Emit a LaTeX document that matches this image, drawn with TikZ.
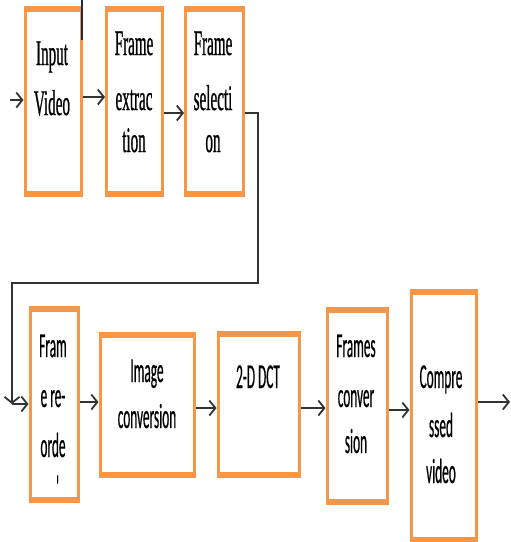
\documentclass[tikz,border=0pt]{standalone}
\usepackage{fontspec}
\usetikzlibrary{arrows.meta}
\newfontfamily\topfam[FakeStretch=0.42,FakeBold=0.6]{Liberation Serif}
\newfontfamily\botfam[FakeStretch=0.38,FakeBold=0.4]{Carlito}
\definecolor{boxorange}{HTML}{F79646}
\definecolor{arrowgray}{HTML}{333333}
\definecolor{navyline}{HTML}{1F2A4A}
\tikzset{
  box/.style={draw=boxorange, line width=3pt, fill=white, inner sep=0pt},
  boxedge/.style={draw=boxorange, line width=6pt},
  tl/.style={anchor=base, inner sep=0pt, font=\topfam\fontsize{36}{40}\selectfont, text=black},
  bl/.style={anchor=base, inner sep=0pt, font=\botfam\fontsize{35}{40}\selectfont, text=black},
  arr/.style={draw=arrowgray, line width=1.8pt, -{Straight Barb[length=6pt,width=15pt,line width=1.8pt]}},
}
\begin{document}
\begin{tikzpicture}[x=1pt,y=-1pt]
\useasboundingbox (0,0) rectangle (511,542);
% boxes (top row)
\node[box, minimum width=56pt, minimum height=182pt] (ivid) at (53,101) {};
\node[box, minimum width=56pt, minimum height=182pt] (fext) at (134.5,101) {};
\node[box, minimum width=58pt, minimum height=182pt] (fsel) at (214.5,101) {};
% boxes (bottom row)
\node[box, minimum width=48pt, minimum height=188pt] (freo) at (54,404) {};
\node[box, minimum width=94pt, minimum height=137pt] (imgc) at (147,404.5) {};
\node[box, minimum width=81pt, minimum height=138pt] (dct) at (258.5,404) {};
\node[box, minimum width=60pt, minimum height=189pt] (fconv) at (357,405.5) {};
\node[box, minimum width=65pt, minimum height=245pt] (comp) at (443.5,416) {};
\foreach \b in {ivid,fext,fsel,freo,imgc,dct,fconv,comp}{
  \draw[boxedge] (\b.north west) -- (\b.north east);
  \draw[boxedge] (\b.south west) -- (\b.south east);
}
% stray mark at the top
\coordinate (mk1) at (82,0);
\coordinate (mk2) at (82,40);
\draw[navyline, line width=2pt] (mk1) -- (mk2);
% texts top row
\node[tl] (t1a) at (52,65) {Input};
\node[tl] (t1b) at (52,115) {Video};
\node[tl] (t2a) at (134,55) {Frame};
\node[tl] (t2b) at (134,110) {extrac};
\node[tl] (t2c) at (134,152) {tion};
\node[tl] (t3a) at (213,55) {Frame};
\node[tl] (t3b) at (213,110) {selecti};
\node[tl] (t3c) at (213,152) {on};
% texts bottom row
\node[bl] (t4a) at (53,357) {Fram};
\node[bl] (t4b) at (53,407) {e re-};
\node[bl] (t4c) at (53,457) {orde};
\node[bl] (t4d) at (60,499) {\textquotesingle};
\node[bl] (t5a) at (147,382) {Image};
\node[bl] (t5b) at (147,428) {conversion};
\node[bl] (t6a) at (258,388) {2-D DCT};
\node[bl] (t7a) at (356,357) {Frames};
\node[bl] (t7b) at (356,407) {conver};
\node[bl] (t7c) at (356,453) {sion};
\node[bl] (t8a) at (441,388) {Compre};
\node[bl] (t8b) at (441,437) {ssed};
\node[bl] (t8c) at (441,483) {video};
% connectors
\coordinate (in) at (10,100);
\draw[arr] (in) -- (ivid.west |- in);
\draw[arr] ([yshift=4pt]ivid.east) -- ([yshift=4pt]fext.west);
\draw[arr] ([yshift=-12pt]fext.east) -- ([yshift=-12pt]fsel.west);
\coordinate (r1) at (258,113);
\coordinate (r2) at (258,283);
\coordinate (r3) at (12,283);
\coordinate (r4) at (12,404);
\draw[arr] ([yshift=-12pt]fsel.east) -- (r1) -- (r2) -- (r3) -- (r4);
\draw[arr] (r4) -- (freo.west |- r4);
\draw[arr] ([yshift=2pt]freo.east) -- ([yshift=2pt]freo.east -| imgc.west);
\draw[arr] ([yshift=-3.5pt]imgc.east) -- ([yshift=-3.5pt]imgc.east -| dct.west);
\draw[arr] ([yshift=-4pt]dct.east) -- ([yshift=-4pt]dct.east -| fconv.west);
\draw[arr] ([yshift=-4.5pt]fconv.east) -- ([yshift=-4.5pt]fconv.east -| comp.west);
\coordinate (out) at (510,402);
\draw[arr] (comp.east |- out) -- (out);
\end{tikzpicture}
\end{document}
